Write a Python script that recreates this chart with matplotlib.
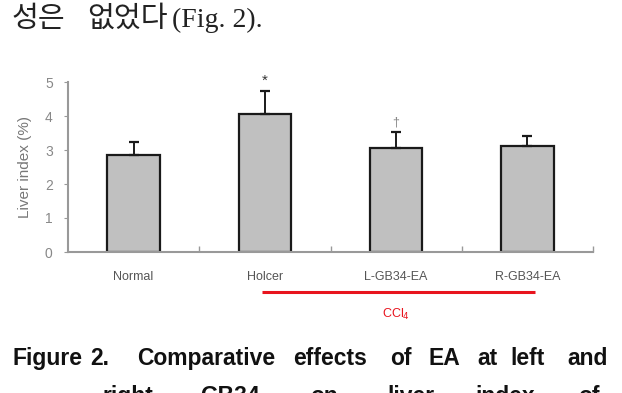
import matplotlib
matplotlib.use('Agg')
import matplotlib.pyplot as plt
import matplotlib.transforms as mtransforms

# data
groups = ['Normal', 'Holcer', 'L-GB34-EA', 'R-GB34-EA']
liver_index = [2.85, 4.06, 3.06, 3.12]
liver_sd = [0.38, 0.68, 0.47, 0.29]
marks = ['', '*', '\u2020', '']
ccl4_span = [0.98, 3.06]  # groups under the red CCl4 bar

W, H = 622, 393
fig = plt.figure(figsize=(W / 100, H / 100), dpi=100)
fig.patch.set_facecolor('white')

narrow = ['Liberation Sans Narrow', 'Liberation Sans', 'DejaVu Sans']

ax = fig.add_axes([68 / W, 1 - 252 / H, (593 - 68) / W, (252 - 82) / H])
x = list(range(len(groups)))
ax.bar(x, liver_index, width=0.40, color='#c0c0c0', edgecolor='#1a1a1a',
       linewidth=1.6, zorder=2)
ax.errorbar(x, liver_index, yerr=[[0] * len(x), liver_sd], fmt='none',
            ecolor='#1a1a1a', elinewidth=1.4, capsize=3.5, capthick=1.6, zorder=3)
for xi, v, s, m in zip(x, liver_index, liver_sd, marks):
    if m:
        ax.text(xi, v + s + 0.1, m, ha='center', va='bottom',
                fontsize=11 if m == '*' else 9,
                color='#333333' if m == '*' else '#888888', family=narrow)

ax.set_xlim(-0.5, 3.5)
ax.set_ylim(0, 5)
ax.set_yticks(range(6))
ax.set_xticks(x)
ax.set_xticklabels(groups, family=narrow, fontsize=9, color='#555555')
ax.set_xticks([0.5, 1.5, 2.5, 3.5], minor=True)
ax.tick_params(axis='x', which='major', length=0, pad=14)
ax.tick_params(axis='x', which='minor', direction='in', length=4,
               color='#999999', width=1)
ax.tick_params(axis='y', direction='out', length=3, color='#999999',
               labelcolor='#888888', labelsize=10, pad=8)
for lab in ax.get_yticklabels():
    lab.set_family(narrow)
ax.set_ylabel('Liver index (%)', family=narrow, fontsize=11, color='#777777',
              labelpad=9)
for side in ['top', 'right']:
    ax.spines[side].set_visible(False)
for side in ['left', 'bottom']:
    ax.spines[side].set_color('#999999')
    ax.spines[side].set_linewidth(1.5)

# red CCl4 bracket under the treated groups
trans = mtransforms.blended_transform_factory(ax.transData, ax.transAxes)
ax.plot(ccl4_span, [-0.235, -0.235], color='#e8141e', lw=2.2,
        transform=trans, clip_on=False, solid_capstyle='butt')
ax.text(2.0, -0.37, 'CCl$_4$', color='#e8141e', fontsize=9, ha='center',
        va='center', transform=trans, family=narrow)

# text of the page around the figure
fig.text(12 / W, 1 - 27 / H, '성은', fontsize=21, family='Noto Sans CJK KR',
         color='#222222', va='baseline')
fig.text(87 / W, 1 - 27 / H, '없었다', fontsize=21, family='Noto Sans CJK KR',
         color='#222222', va='baseline')
fig.text(172 / W, 1 - 27 / H, '(Fig. 2).', fontsize=20,
         family=['Liberation Serif', 'DejaVu Serif'], color='#222222',
         va='baseline')

line1 = [('Figure', 12), ('2.', 90), ('Comparative', 137), ('effects', 293),
         ('of', 390), ('EA', 428), ('at', 477), ('left', 510), ('and', 567)]
line2 = [('right', 103), ('GB34', 200), ('on', 310), ('liver', 387),
         ('index', 475), ('of', 578)]
for word, px in line1:
    fig.text(px / W, 1 - 365 / H, word, fontsize=16.5, fontweight='bold',
             family=narrow, color='#111111', va='baseline')
for word, px in line2:
    fig.text(px / W, 1 - 403 / H, word, fontsize=16.5, fontweight='bold',
             family=narrow, color='#111111', va='baseline')

fig.savefig('out.png', dpi=100)
